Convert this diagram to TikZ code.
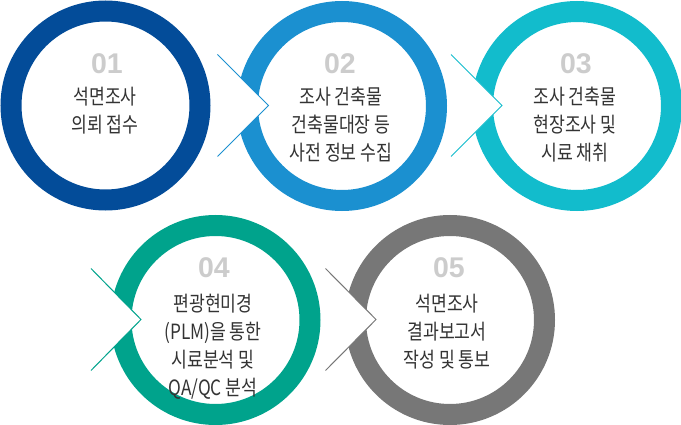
\documentclass[tikz,border=0pt]{standalone}
\usepackage{fontspec}
\setmainfont{Noto Sans CJK KR}[FakeStretch=0.82]
\newfontfamily\numfont{Liberation Sans}
\definecolor{cA}{HTML}{034C99}
\definecolor{cB}{HTML}{1B90D0}
\definecolor{cC}{HTML}{12BCCC}
\definecolor{cD}{HTML}{00A38C}
\definecolor{cE}{HTML}{777777}
\definecolor{numgray}{HTML}{CCCCCC}
\definecolor{txtgray}{HTML}{333333}
\begin{document}
\begin{tikzpicture}[x=1pt,y=-1pt,
  ring/.style={circle,draw=#1,line width=21pt,minimum size=189pt,inner sep=0pt},
  num/.style={font=\numfont\bfseries\fontsize{28.5}{28.5}\selectfont,text=numgray,inner sep=0pt,anchor=base},
  body/.style={font=\fontsize{21}{28}\selectfont,text=txtgray,inner sep=0pt,anchor=base}
]
\useasboundingbox (0,0) rectangle (681,425);
% rings
\node[ring=cA] (r1) at (105.5,105.5) {};
\node[ring=cB] (r2) at (342,106) {};
\node[ring=cC] (r3) at (577,106) {};
\node[ring=cD] (r4) at (215.5,320) {};
\node[ring=cE] (r5) at (450,320) {};
% chevrons
\coordinate (a2t) at (217.5,54.5);  \coordinate (a2p) at (268.5,105.5); \coordinate (a2b) at (217.5,156.5);
\coordinate (a3t) at (451,54.5);    \coordinate (a3p) at (502,105.5);   \coordinate (a3b) at (451,156.5);
\coordinate (a4t) at (91,268.5);    \coordinate (a4p) at (141,319.5);   \coordinate (a4b) at (91,370.5);
\coordinate (a5t) at (325.5,268.5); \coordinate (a5p) at (376,319.5);   \coordinate (a5b) at (325.5,370.5);
\fill[white] (a2t) -- (a2p) -- (a2b) -- cycle; \draw[cB,line width=1pt] (a2t) -- (a2p) -- (a2b);
\fill[white] (a3t) -- (a3p) -- (a3b) -- cycle; \draw[cC,line width=1pt] (a3t) -- (a3p) -- (a3b);
\fill[white] (a4t) -- (a4p) -- (a4b) -- cycle; \draw[cD,line width=1pt] (a4t) -- (a4p) -- (a4b);
\fill[white] (a5t) -- (a5p) -- (a5b) -- cycle; \draw[cE,line width=1pt] (a5t) -- (a5p) -- (a5b);
% numbers
\node[num] (n1) at (107,74) {01};
\node[num] (n2) at (340,74) {02};
\node[num] (n3) at (576,74) {03};
\node[num] (n4) at (214,278) {04};
\node[num] (n5) at (449,278) {05};
% texts
\node[body] (t1a) at (105,105) {석면조사};
\node[body] (t1b) at (105,133) {의뢰 접수};
\node[body] (t2a) at (341,105) {조사 건축물};
\node[body] (t2b) at (341,133) {건축물대장 등};
\node[body] (t2c) at (341,161) {사전 정보 수집};
\node[body] (t3a) at (575,105) {조사 건축물};
\node[body] (t3b) at (575,133) {현장조사 및};
\node[body] (t3c) at (575,161) {시료 채취};
\node[body] (t4a) at (213,311.5) {편광현미경};
\node[body] (t4b) at (213,339.5) {(PLM)을 통한};
\node[body] (t4c) at (213,367.5) {시료분석 및};
\node[body] (t4d) at (213,395) {QA/QC 분석};
\node[body] (t5a) at (447,311.5) {석면조사};
\node[body] (t5b) at (447,339.5) {결과보고서};
\node[body] (t5c) at (447,367) {작성 및 통보};
\end{tikzpicture}
\end{document}
